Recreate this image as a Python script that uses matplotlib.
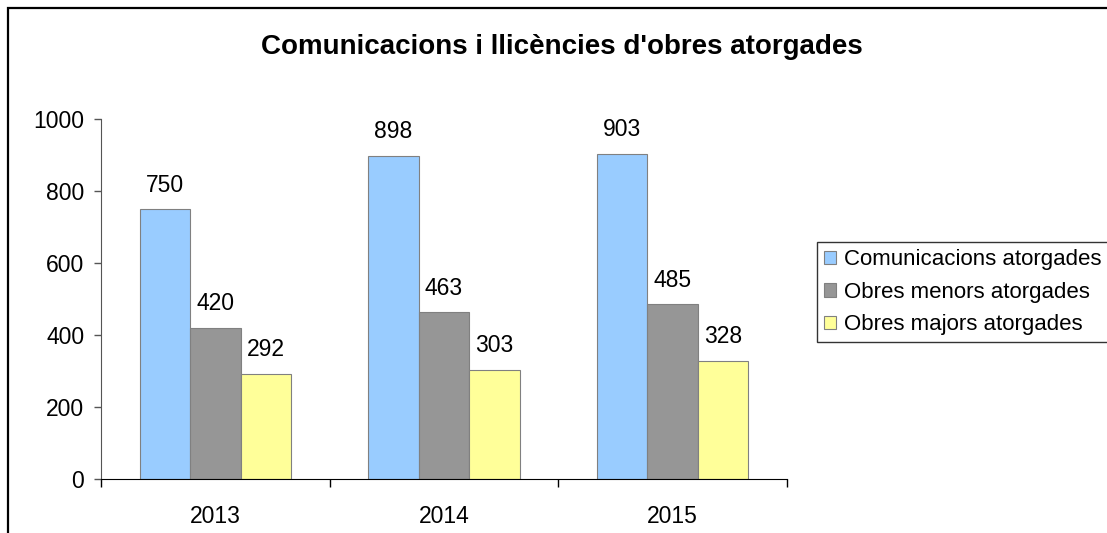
import matplotlib
matplotlib.use("Agg")
import matplotlib.pyplot as plt
from matplotlib.lines import Line2D
import numpy as np

plt.rcParams['font.family'] = ['Liberation Sans', 'DejaVu Sans']

years = ['2013', '2014', '2015']
series_names = ['Comunicacions atorgades', 'Obres menors atorgades', 'Obres majors atorgades']
comunicacions = [750, 898, 903]
obres_menors = [420, 463, 485]
obres_majors = [292, 303, 328]
colors = ['#99CCFF', '#969696', '#FFFF99']

W, H = 1107, 533
fs = 16.5
fig = plt.figure(figsize=(W / 100, H / 100), dpi=100)

# chart area frame: left and top edges
fig.lines.append(Line2D([7.5 / W, 7.5 / W, 1.0], [0.0, (H - 8) / H, (H - 8) / H], transform=fig.transFigure,
                        color='black', linewidth=1.6, solid_joinstyle='miter'))

ax = fig.add_axes([101 / W, (H - 479) / H, (787 - 101) / W, (479 - 119) / H])

x = np.arange(len(years))
width = 0.221
for i, (vals, name, col) in enumerate(zip([comunicacions, obres_menors, obres_majors], series_names, colors)):
    bars = ax.bar(x + (i - 1) * width, vals, width, color=col, edgecolor='#808080', linewidth=0.8, label=name)
    for b, v in zip(bars, vals):
        ax.annotate(str(v), (b.get_x() + b.get_width() / 2, v), xytext=(0, 9), textcoords='offset points',
                    ha='center', va='bottom', fontsize=fs)

ax.set_xlim(-0.5, 2.5)
ax.set_ylim(0, 1000)
ax.set_yticks(range(0, 1001, 200))
ax.set_xticks(x)
ax.set_xticklabels(years)
ax.set_xticks([-0.5, 0.5, 1.5, 2.5], minor=True)
ax.tick_params(axis='x', which='major', length=0, pad=19, labelsize=fs)
ax.tick_params(axis='x', which='minor', length=6, width=1, color='black')
ax.tick_params(axis='y', length=5, width=1, color='#555555', pad=7, labelsize=fs)
for s in ['top', 'right']:
    ax.spines[s].set_visible(False)
ax.spines['left'].set_color('#555555')
ax.spines['bottom'].set_color('black')

fig.text(562 / W, (H - 47) / H, "Comunicacions i llicències d'obres atorgades",
         ha='center', va='center', fontsize=20, fontweight='bold')

leg = fig.legend(loc='upper left', bbox_to_anchor=(817 / W, (H - 242) / H), fontsize=16,
                 frameon=True, fancybox=False, edgecolor='black', handlelength=0.55, handleheight=0.55,
                 handletextpad=0.35, labelspacing=0.52, borderpad=0.32, borderaxespad=0)
leg.get_frame().set_linewidth(1.0)

fig.savefig('out.png', dpi=100)
